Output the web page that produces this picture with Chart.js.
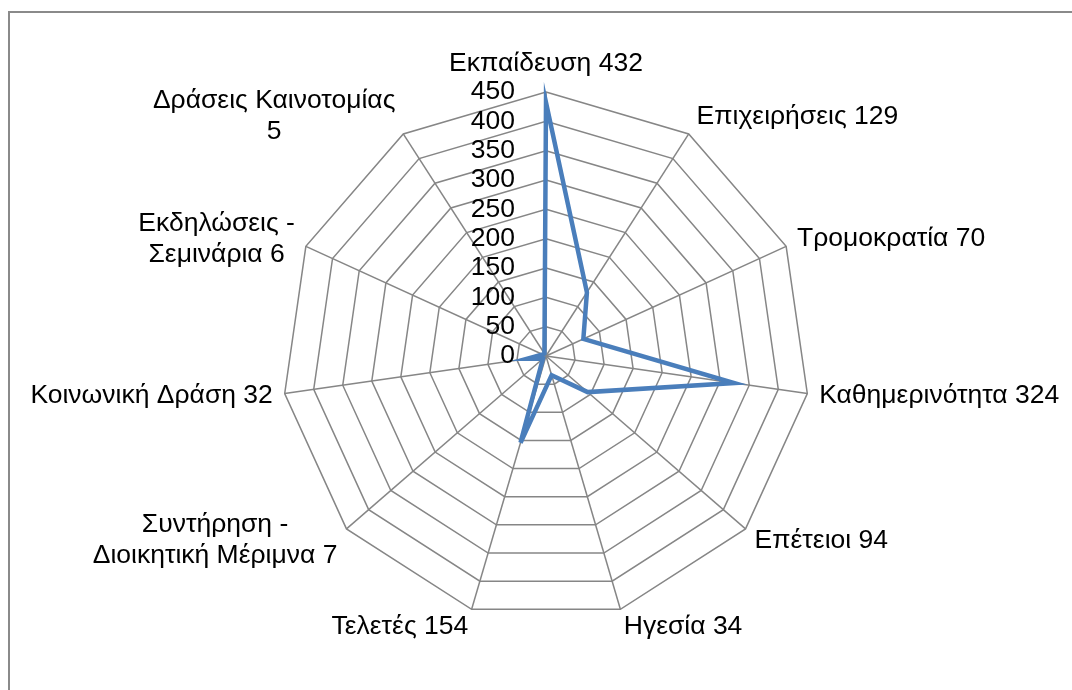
<!DOCTYPE html>
<html>
<head>
<meta charset="utf-8">
<script src="https://cdn.jsdelivr.net/npm/chart.js@4.4.0/dist/chart.umd.min.js"></script>
<style>
  html, body { margin: 0; padding: 0; background: #fff; overflow: hidden; }
  #wrap { position: relative; width: 1072px; height: 690px; }
  #frame { position: absolute; left: 8px; top: 11px; width: 2000px; height: 2000px; border: 2px solid #8a8a8a; }
  canvas { position: absolute; left: 0; top: 0; }
</style>
</head>
<body>
<div id="wrap">
  <div id="frame"></div>
  <canvas id="chart" width="1072" height="690"></canvas>
</div>
<script>
// category names, split where the original wraps them
const categories = [
  ['Εκπαίδευση'],
  ['Επιχειρήσεις'],
  ['Τρομοκρατία'],
  ['Καθημερινότητα'],
  ['Επέτειοι'],
  ['Ηγεσία'],
  ['Τελετές'],
  ['Συντήρηση -', 'Διοικητική Μέριμνα'],
  ['Κοινωνική Δράση'],
  ['Εκδηλώσεις -', 'Σεμινάρια'],
  ['Δράσεις Καινοτομίας', '']
];
const values = [432, 129, 70, 324, 94, 34, 154, 7, 32, 6, 5];
const tickLabels = [0, 50, 100, 150, 200, 250, 300, 350, 400, 450];

const FONT = '26.5px "Liberation Sans", Arial, sans-serif';
const LINE_H = 31;

// label lines with the value appended to the last line
const labelLines = categories.map((lines, i) => {
  const out = lines.slice();
  out[out.length - 1] = (out[out.length - 1] + ' ' + values[i]).trim();
  return out;
});

// draws tick values and category labels the way the original places them
const labelsPlugin = {
  id: 'excelLabels',
  afterDraw(chart) {
    const scale = chart.scales.r;
    const ctx = chart.ctx;
    ctx.save();
    ctx.font = FONT;
    ctx.fillStyle = '#000';

    // tick values, right aligned left of the vertical axis
    ctx.textAlign = 'right';
    ctx.textBaseline = 'middle';
    tickLabels.forEach(v => {
      const d = scale.getDistanceFromCenterForValue(v);
      ctx.fillText(String(v), scale.xCenter - 31, scale.yCenter - d);
    });

    // category labels
    labelLines.forEach((lines, i) => {
      const a = scale.getIndexAngle(i);
      const s = Math.sin(a), c = Math.cos(a);
      const pad = 12 + 10 * Math.pow(Math.max(0, c), 8);
      const p = scale.getPointPosition(i, scale.drawingArea + pad);
      const widths = lines.map(t => ctx.measureText(t).width);
      const w = Math.max(...widths);
      const h = lines.length * LINE_H;
      let cx;
      if (Math.abs(s) < 0.05) cx = p.x;
      else if (s > 0) cx = p.x + w / 2;
      else cx = p.x - w / 2;
      const cy = p.y - c * 6;
      ctx.textAlign = 'center';
      lines.forEach((t, k) => {
        ctx.fillText(t, cx, cy - h / 2 + LINE_H * (k + 0.5));
      });
    });
    ctx.restore();
  }
};

new Chart(document.getElementById('chart'), {
  type: 'radar',
  data: {
    labels: labelLines.map(l => l.join(' ')),
    datasets: [{
      data: values,
      borderColor: '#4a7ebb',
      borderWidth: 4.5,
      fill: false,
      pointRadius: 0,
      tension: 0
    }]
  },
  options: {
    responsive: false,
    animation: false,
    layout: { padding: { left: 282, right: 262, top: 92, bottom: 70 } },
    plugins: { legend: { display: false }, tooltip: { enabled: false } },
    scales: {
      r: {
        min: 0,
        max: 450,
        ticks: { stepSize: 50, display: false },
        grid: { color: '#868686', lineWidth: 1.5 },
        angleLines: { color: '#868686', lineWidth: 1.5 },
        pointLabels: { display: false }
      }
    }
  },
  plugins: [labelsPlugin]
});
</script>
</body>
</html>
